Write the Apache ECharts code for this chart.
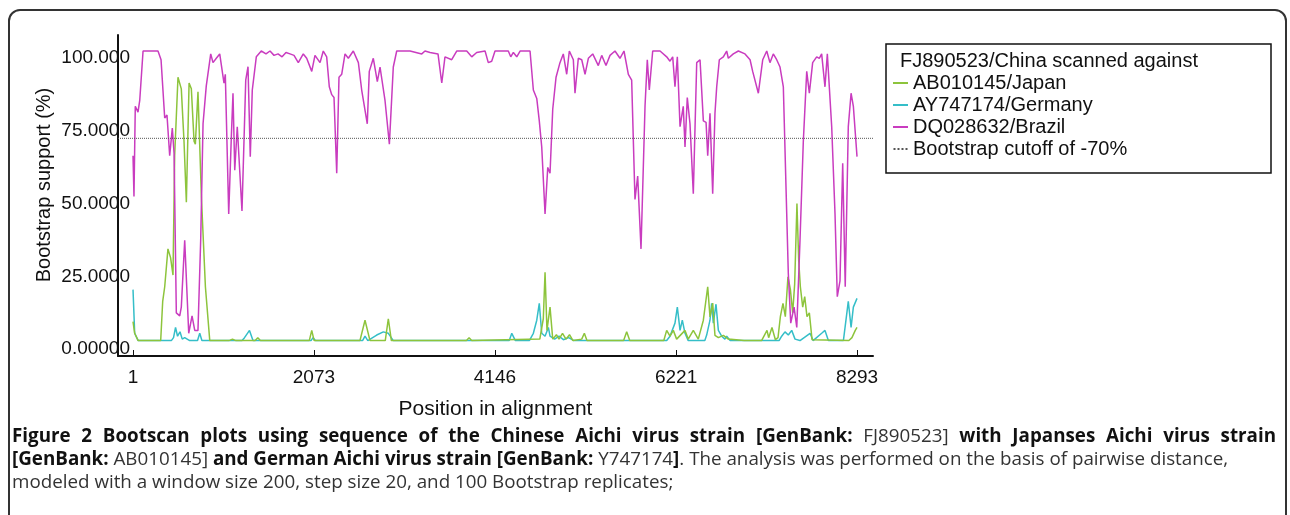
<!DOCTYPE html>
<html>
<head>
<meta charset="utf-8">
<script src="https://cdn.jsdelivr.net/npm/echarts@6/dist/echarts.min.js"></script>
<style>
    html, body { margin: 0; padding: 0; background: #fff; }
    .frame {
        position: absolute; left: 8px; top: 9px; width: 1279px; height: 530px;
        box-sizing: border-box; border: 2px solid #333; border-radius: 12px;
    }
    #chart { position: absolute; left: 0; top: 0; width: 1290px; height: 515px; }
    .caption {
        position: absolute; left: 12px; top: 424px; width: 1264px;
        font-family: "Open Sans", "Noto Sans", sans-serif;
        font-size: 18.8px; line-height: 23px; color: #333;
    }
    .caption div { white-space: nowrap; }
    .caption b { color: #111; }
    .caption .l1 { text-align: justify; text-align-last: justify; }
</style>
</head>
<body>
<div class="frame"></div>
<div id="chart"></div>
<div class="caption">
    <div class="l1"><b>Figure 2 Bootscan plots using sequence of the Chinese Aichi virus strain [GenBank:</b> FJ890523] <b>with Japanses Aichi virus strain</b></div>
    <div><b>[GenBank:</b> AB010145] <b>and German Aichi virus strain [GenBank:</b> Y747174<b>]</b>. The analysis was performed on the basis of pairwise distance,</div>
    <div>modeled with a window size 200, step size 20, and 100 Bootstrap replicates;</div>
</div>
<script>
    // tick positions / labels
    const xTicks = [1, 2073, 4146, 6221, 8293];
    const yTicks = [0, 25, 50, 75, 100];
    const yTickLabels = ['0.00000', '25.0000', '50.0000', '75.0000', '100.000'];
    const cutoff = 70;

    // [position, bootstrap %]
    const japanPts = [
        [1, 7], [20, 3], [60, 0.5], [318, 0.5], [341, 14], [364, 19], [401, 32], [431, 29], [459, 23],
        [478, 64], [516, 91], [554, 87], [585, 69], [612, 48], [643, 89], [669, 87], [700, 69], [715, 68],
        [745, 86], [784, 50], [830, 19], [880, 0.5], [1100, 0.5], [1140, 1], [1180, 0.5], [1400, 0.5],
        [1430, 1.5], [1460, 0.5], [2020, 0.5], [2048, 4], [2075, 0.5], [2600, 0.5], [2658, 7.5], [2715, 0.5],
        [2890, 0.5], [2925, 8], [2960, 0.5], [3820, 0.5], [3850, 1.5], [3880, 0.5], [4660, 1], [4700, 8],
        [4720, 24], [4742, 4], [4777, 12], [4808, 1], [4850, 2.5], [4880, 1], [4920, 3], [4960, 1],
        [5000, 2.5], [5040, 0.5], [5140, 1], [5170, 3], [5200, 0.5], [5620, 0.5], [5655, 3.5], [5690, 0.5],
        [6080, 0.5], [6113, 4], [6151, 2], [6189, 4], [6227, 1], [6323, 4], [6360, 1], [6418, 4],
        [6475, 1], [6533, 7.5], [6583, 19], [6609, 8.6], [6640, 13.4], [6666, 2.3], [6705, 1.5], [6762, 2.3],
        [6819, 1], [7000, 0.5], [7200, 0.5], [7262, 4], [7281, 1.5], [7319, 5], [7358, 0.8], [7388, 1.5],
        [7415, 8.7], [7445, 13.3], [7472, 8.7], [7502, 22.4], [7530, 18], [7556, 10], [7579, 20], [7605, 47.6],
        [7625, 28], [7644, 19], [7671, 12], [7694, 15.6], [7720, 8.7], [7747, 10], [7778, 0.8], [8200, 0.5],
        [8235, 1.5], [8273, 4], [8293, 5]
    ];

    const germanyPts = [
        [1, 18], [20, 3], [60, 0.5], [440, 0.5], [465, 1.5], [488, 5], [511, 2], [539, 3.5], [565, 1],
        [593, 1.5], [650, 0.5], [740, 0.5], [765, 3], [790, 0.5], [1250, 0.5], [1278, 1.5], [1335, 4],
        [1375, 0.5], [2040, 0.5], [2063, 1.5], [2090, 0.5], [2630, 0.5], [2658, 2], [2690, 0.5], [2792, 2.4],
        [2868, 3.5], [2925, 3], [2982, 0.5], [4310, 0.5], [4339, 3], [4380, 0.5], [4540, 0.5], [4586, 3],
        [4625, 7.5], [4654, 13.3], [4682, 3], [4720, 2], [4758, 5], [4777, 2], [4830, 1], [4880, 2],
        [4930, 0.8], [4990, 1.5], [5050, 0.5], [6113, 0.5], [6151, 2], [6208, 6.5], [6235, 12], [6266, 4],
        [6292, 7.5], [6323, 3], [6360, 0.5], [6550, 0.5], [6571, 2.4], [6609, 7.5], [6628, 13.3], [6647, 6.5],
        [6678, 13], [6705, 4], [6743, 2], [6780, 1], [6800, 2], [6840, 0.5], [7400, 0.5], [7430, 2],
        [7468, 3.5], [7506, 2.4], [7545, 4], [7583, 1], [7640, 0.5], [7755, 3], [7790, 0.5], [7888, 3],
        [7926, 4], [7965, 0.5], [8137, 0.5], [8193, 14], [8225, 5], [8251, 12], [8293, 15]
    ];

    const brazilPts = [
        [1, 64], [12, 50], [27, 81], [58, 79], [78, 83], [116, 100], [287, 100], [322, 97], [364, 77],
        [390, 78], [421, 64], [451, 73.5], [471, 65], [497, 10], [536, 9], [554, 12], [593, 35], [639, 3],
        [677, 9], [708, 4], [745, 4], [776, 35], [803, 75], [840, 88], [891, 99], [917, 96], [955, 97.5],
        [994, 99], [1043, 89], [1058, 92], [1097, 44], [1127, 70.5], [1146, 85.5], [1166, 59], [1195, 74],
        [1249, 45], [1292, 90], [1318, 94.6], [1344, 63.7], [1367, 86.6], [1413, 98], [1470, 100], [1524, 99],
        [1570, 100], [1616, 98.5], [1662, 99], [1708, 98], [1753, 99.5], [1799, 99], [1845, 98.5], [1894, 96],
        [1951, 99], [1990, 97.5], [2048, 93], [2085, 98.5], [2143, 96], [2180, 100], [2219, 98], [2249, 87.7],
        [2277, 85], [2303, 84], [2334, 58], [2360, 91], [2391, 92], [2429, 99], [2467, 97.5], [2524, 100],
        [2582, 96], [2620, 86.6], [2684, 75], [2707, 93], [2753, 97.5], [2799, 89.5], [2830, 94.5], [2887, 83],
        [2937, 68], [2982, 94.5], [3021, 100], [3174, 100], [3308, 99], [3345, 100], [3403, 99.5], [3494, 99],
        [3537, 89], [3574, 98], [3651, 97], [3708, 100], [3823, 100], [3880, 98], [3937, 99.5], [4033, 100],
        [4070, 96], [4109, 96.5], [4147, 100], [4299, 100], [4327, 98], [4357, 99.5], [4396, 98], [4434, 100],
        [4548, 100], [4586, 86.6], [4625, 83.7], [4654, 76], [4682, 67], [4720, 44], [4751, 60], [4777, 58],
        [4808, 80], [4846, 91], [4891, 96], [4929, 99], [4968, 92], [4998, 100], [5044, 97], [5063, 85.5],
        [5101, 97.5], [5140, 97], [5178, 92], [5216, 97.5], [5266, 99], [5330, 95], [5369, 98.5], [5418, 95],
        [5464, 98.5], [5521, 100], [5578, 97.5], [5624, 100], [5674, 92], [5712, 90], [5750, 49], [5781, 57],
        [5819, 32], [5865, 81], [5891, 97], [5914, 86.6], [5953, 100], [6037, 100], [6113, 98], [6151, 96.5],
        [6182, 98], [6208, 87.7], [6235, 98], [6266, 74], [6303, 81], [6323, 67], [6349, 84], [6380, 75],
        [6418, 51], [6457, 96], [6495, 97], [6533, 76], [6564, 75.5], [6583, 64], [6609, 78.6], [6640, 51],
        [6666, 78.6], [6686, 87.7], [6716, 97], [6762, 98], [6800, 100], [6819, 97.5], [6876, 99], [6934, 100],
        [7010, 99], [7068, 97], [7098, 93], [7163, 85.5], [7213, 97], [7259, 100], [7296, 96], [7334, 99],
        [7373, 97], [7411, 94.5], [7449, 87.7], [7506, 23.6], [7534, 6.5], [7572, 12], [7603, 5], [7640, 35],
        [7678, 69], [7717, 93], [7747, 85.5], [7785, 96], [7831, 98], [7861, 97.5], [7888, 99], [7926, 87.7],
        [7953, 99], [8003, 74], [8041, 44], [8067, 15.6], [8098, 21], [8129, 61.4], [8158, 19], [8193, 74],
        [8225, 85.5], [8251, 81], [8293, 63.7]
    ];

    const X_MIN = -171, X_MAX = 8476;
    const FONT = 'Liberation Sans, Arial, sans-serif';
    const LINE_ICON = 'path://M0,0H15V2H0Z';
    const DOT_ICON = 'path://M0,0H2V2H0Z M4,0H6V2H4Z M8,0H10V2H8Z M12,0H14V2H12Z';

    const chart = echarts.init(document.getElementById('chart'));
    chart.setOption({
        animation: false,
        textStyle: { fontFamily: FONT, color: '#111' },
        grid: { left: 118, right: 417, top: 35, bottom: 159, outerBoundsMode: 'none' },
        xAxis: {
            type: 'value',
            min: X_MIN,
            max: X_MAX,
            name: 'Position in alignment',
            nameLocation: 'middle',
            nameGap: 43,
            nameTextStyle: { fontSize: 21, color: '#111', fontFamily: FONT },
            axisLine: { show: true, onZero: false, lineStyle: { color: '#111', width: 2 } },
            axisTick: { show: true, inside: true, length: 6, customValues: xTicks, lineStyle: { color: '#111' } },
            axisLabel: {
                customValues: xTicks,
                formatter: v => String(v),
                fontSize: 19, color: '#111', margin: 12, fontFamily: FONT
            },
            splitLine: { show: false }
        },
        yAxis: {
            type: 'value',
            min: -4.8,
            max: 105.5,
            axisLine: { show: true, onZero: false, lineStyle: { color: '#111', width: 2 } },
            axisTick: { show: false },
            axisLabel: {
                customValues: yTicks,
                formatter: v => yTickLabels[yTicks.indexOf(v)],
                fontSize: 19,
                color: '#111',
                fontFamily: FONT,
                margin: -12,
                verticalAlign: 'top',
                lineHeight: 14
            },
            splitLine: { show: false }
        },
        legend: {
            orient: 'vertical',
            left: 893,
            top: 72,
            padding: 0,
            itemGap: 0,
            itemWidth: 15,
            itemHeight: 2,
            selectedMode: false,
            textStyle: { fontSize: 20, lineHeight: 22, color: '#111', fontFamily: FONT },
            data: [
                { name: 'AB010145/Japan', icon: LINE_ICON },
                { name: 'AY747174/Germany', icon: LINE_ICON },
                { name: 'DQ028632/Brazil', icon: LINE_ICON },
                { name: 'Bootstrap cutoff of -70%', icon: DOT_ICON }
            ]
        },
        graphic: [
            {
                type: 'rect',
                shape: { x: 886, y: 44, width: 385, height: 129 },
                style: { fill: 'none', stroke: '#111', lineWidth: 1.5 }
            },
            {
                type: 'text',
                x: 900, y: 61,
                style: { text: 'FJ890523/China scanned against', font: '20px ' + FONT, fill: '#111', verticalAlign: 'middle' }
            },
            {
                type: 'text',
                x: 44, y: 185,
                rotation: Math.PI / 2,
                style: { text: 'Bootstrap support (%)', font: '20px ' + FONT, fill: '#111', align: 'center', verticalAlign: 'middle' }
            }
        ],
        series: [
            {
                name: 'AY747174/Germany', type: 'line', symbol: 'none', data: germanyPts,
                color: '#35bec8', lineStyle: { width: 1.5 }
            },
            {
                name: 'AB010145/Japan', type: 'line', symbol: 'none', data: japanPts,
                color: '#8dc43c', lineStyle: { width: 1.5 }
            },
            {
                name: 'DQ028632/Brazil', type: 'line', symbol: 'none', data: brazilPts,
                color: '#c93cbf', lineStyle: { width: 1.5 }
            },
            {
                name: 'Bootstrap cutoff of -70%', type: 'line', symbol: 'none',
                data: [[X_MIN, cutoff], [X_MAX, cutoff]],
                color: '#555', lineStyle: { width: 1, type: 'dotted' }
            }
        ]
    });
</script>
</body>
</html>
